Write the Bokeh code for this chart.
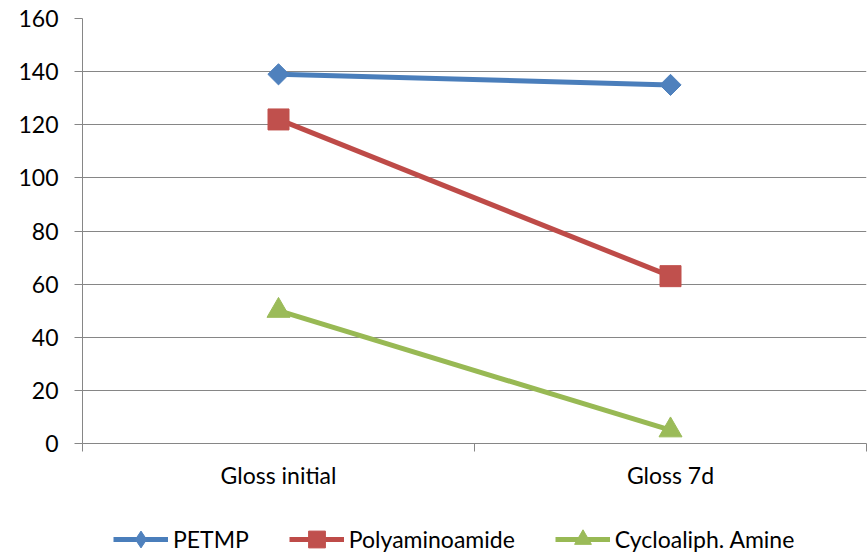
import math
from bokeh.plotting import figure
from bokeh.layouts import column
from bokeh.models import FixedTicker, Legend, LegendItem, Range1d
from bokeh.embed import file_html
from bokeh.resources import INLINE

# Gloss values for the three hardeners
categories = ["Gloss initial", "Gloss 7d"]
petmp = [139, 135]
polyaminoamide = [122, 63]
cycloaliph_amine = [50, 5]
y_ticks = [0, 20, 40, 60, 80, 100, 120, 140, 160]

FONT = "Lato"
GRID = "#868686"

# one unit per category, points sit in the middle of each slot
xs = [i + 0.5 for i in range(len(categories))]
bounds = list(range(len(categories) + 1))

p = figure(width=868, height=500, output_backend="svg", toolbar_location=None,
           x_range=Range1d(0, len(categories)), y_range=Range1d(0, 160),
           min_border_left=82, min_border_right=2, min_border_top=18,
           min_border_bottom=57)
p.outline_line_color = None
p.background_fill_color = "white"
p.border_fill_color = "white"

# y axis
p.yaxis.ticker = FixedTicker(ticks=y_ticks)
p.yaxis.axis_line_color = GRID
p.yaxis.major_tick_line_color = GRID
p.yaxis.major_tick_out = 8
p.yaxis.major_tick_in = 0
p.yaxis.minor_tick_line_color = None
p.yaxis.major_label_standoff = 16
p.yaxis.major_label_text_font = FONT
p.yaxis.major_label_text_font_size = "23px"
p.yaxis.major_label_text_color = "black"

# x axis: labels at slot centres, tick marks at slot boundaries
p.xaxis.ticker = FixedTicker(ticks=xs, minor_ticks=bounds)
p.xaxis.major_label_overrides = {x: c for x, c in zip(xs, categories)}
p.xaxis.axis_line_color = GRID
p.xaxis.major_tick_line_color = None
p.xaxis.minor_tick_line_color = GRID
p.xaxis.minor_tick_out = 8
p.xaxis.minor_tick_in = 0
p.xaxis.major_label_standoff = 9
p.xaxis.major_label_text_font = FONT
p.xaxis.major_label_text_font_size = "23px"
p.xaxis.major_label_text_color = "black"

p.xgrid.grid_line_color = None
p.ygrid.ticker = FixedTicker(ticks=y_ticks)
p.ygrid.grid_line_color = GRID
p.ygrid.grid_line_width = 1

# name, values, line colour, marker colour, plot marker, size, angle, key marker
series = [
    ("PETMP", petmp, "#4A7EBB", "#4F81BD", "square", 15, math.pi / 4, "diamond"),
    ("Polyaminoamide", polyaminoamide, "#BE4B48", "#C0504D", "square", 21, 0, "square"),
    ("Cycloaliph. Amine", cycloaliph_amine, "#98B954", "#9BBB59", "triangle", 23, 0, "triangle"),
]

# legend strip underneath the chart; its ranges keep the key renderers out of view
leg = figure(width=868, height=54, output_backend="svg", toolbar_location=None,
             x_axis_location=None, y_axis_location=None,
             x_range=Range1d(100, 101), y_range=Range1d(1000, 1001),
             min_border_left=82, min_border_right=2, min_border_top=0,
             min_border_bottom=0, outline_line_color=None)
leg.grid.visible = False
leg.background_fill_color = "white"
leg.border_fill_color = "white"

items = []
for name, vals, lc, mc, marker, size, ang, key in series:
    p.line(xs, vals, line_color=lc, line_width=5)
    p.scatter(xs, vals, marker=marker, size=size, angle=ang,
              fill_color=mc, line_color=mc)
    lk = leg.line(xs, vals, line_color=lc, line_width=5)
    sk = leg.scatter(xs, vals, marker=key, size=size,
                     fill_color=mc, line_color=mc)
    items.append(LegendItem(label=name, renderers=[lk, sk]))

legend = Legend(items=items, orientation="horizontal", location=(31, -6),
                glyph_width=55, glyph_height=42, label_standoff=5, spacing=40,
                padding=0, margin=0, border_line_color=None,
                background_fill_alpha=0,
                label_text_font=FONT, label_text_font_size="23px",
                label_text_color="black")
leg.add_layout(legend, "center")

open("out.html", "w").write(file_html(column(p, leg, spacing=0), INLINE))
